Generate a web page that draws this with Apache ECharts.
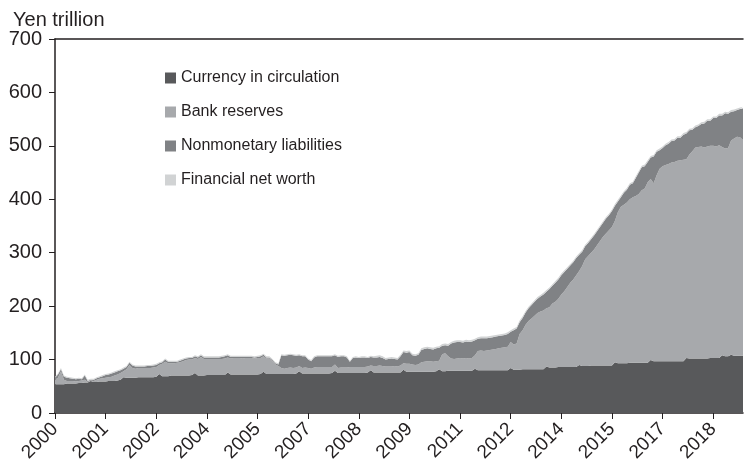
<!DOCTYPE html>
<html>
<head>
<meta charset="utf-8">
<script src="https://cdn.jsdelivr.net/npm/echarts@6/dist/echarts.min.js"></script>
<style>
  html, body { margin: 0; padding: 0; background: #fff; }
  #chart { width: 744px; height: 471px; }
</style>
</head>
<body>
<div id="chart"></div>
<script>
  // monthly, Jan 2000 .. Apr 2019
  var months = [];
  for (var i = 0; i < 232; i++) {
    months.push((2000 + Math.floor(i / 12)) + '-' + String(i % 12 + 1).padStart(2, '0'));
  }

  var legendNames = ['Currency in circulation', 'Bank reserves', 'Nonmonetary liabilities', 'Financial net worth'];

  var currency = [
    54,54,54,54,55,55,55,55,56,56,57,57,
    60,58,58,59,59,59,60,60,60,61,62,67,
    66,66,66,66,67,67,67,67,67,67,68,73,
    69,69,69,70,70,70,70,70,70,70,71,75,
    70,70,70,71,71,71,71,71,71,71,76,72,
    72,72,72,72,72,72,72,72,72,73,77,73,
    73,73,73,73,73,73,73,73,73,74,78,74,
    74,74,74,74,74,74,74,74,74,75,79,75,
    75,75,75,75,75,75,75,75,75,76,80,76,
    76,76,76,76,76,76,76,76,76,81,77,77,
    77,77,77,77,77,77,77,77,78,82,78,78,
    79,79,79,79,79,79,79,79,79,83,80,80,
    80,80,80,80,80,80,80,80,80,84,81,81,
    81,82,82,82,82,82,82,82,82,87,85,85,
    85,86,86,86,86,86,86,86,90,88,88,88,
    89,89,89,89,89,89,89,89,95,93,93,93,
    93,94,94,94,94,94,94,94,99,97,97,97,
    97,97,97,97,97,97,97,97,103,102,102,102,
    102,102,102,102,103,103,103,103,108,106,106,109,
    107,107,107,107
  ];

  var bankReserves = [
    8,12,24,8,5,5,5,4,4,5,5,1,
    1,2,4,5,6,7,7,8,10,11,13,11,
    16,24,18,17,17,17,17,17,17,18,18,17,
    23,27,24,23,23,24,25,27,29,30,29,28,
    31,35,31,30,30,30,30,30,30,31,28,30,
    31,31,31,30,31,31,31,30,31,30,29,29,
    29,24,18,15,11,10,11,12,11,11,10,10,
    11,10,9,11,12,12,12,12,12,11,12,9,
    10,10,10,11,11,11,11,11,11,11,9,12,
    12,13,12,11,11,11,12,11,13,12,15,15,
    14,13,14,18,19,20,20,19,19,16,32,34,
    27,23,22,23,24,23,24,23,24,25,36,37,
    36,37,38,39,40,41,42,43,44,49,47,49,
    67,73,83,90,95,100,105,108,110,109,113,120,
    123,128,136,142,150,158,164,172,176,187,200,206,
    211,217,225,233,241,247,253,259,265,283,293,297,
    301,306,310,312,316,323,326,338,339,333,348,360,
    365,367,369,372,373,375,376,377,372,382,388,395,
    396,397,395,397,397,397,396,398,390,389,390,401,
    407,410,409,404
  ];

  var nonmonetary = [
    4,6,4,6,6,5,4,4,4,2,8,2,
    1,2,3,3,4,5,5,6,6,6,5,5,
    4,4,5,4,3,3,3,4,4,4,4,3,
    3,4,3,3,3,2,3,3,3,3,3,3,
    3,3,3,3,3,3,3,3,4,4,4,3,
    2,2,2,3,2,2,2,2,2,3,3,2,
    2,2,2,3,24,24,24,24,24,22,20,22,
    21,16,14,19,20,20,20,20,20,20,17,21,
    21,21,19,10,17,18,17,18,18,16,16,16,
    16,16,15,13,14,15,13,13,17,21,21,22,
    17,17,18,23,24,24,23,23,24,24,16,15,
    20,28,31,31,30,30,31,31,31,28,23,23,
    24,23,23,23,23,23,23,23,24,19,27,28,
    22,23,23,24,25,26,27,28,30,31,34,33,
    36,36,36,36,34,32,32,32,30,27,24,24,
    25,26,26,26,26,28,28,30,28,20,18,22,
    24,27,26,34,40,43,42,38,40,50,44,35,
    34,37,38,40,40,43,42,47,48,45,40,38,
    39,42,45,48,47,52,53,56,59,66,64,54,
    51,50,53,59
  ];

  var netWorth = [
    2,2,2,2,2,2,2,2,2,2,2,2,
    2,2,2,2,2,2,2,2,2,2,2,2,
    2,2,2,2,2,2,2,2,2,2,2,2,
    2,2,2,2,2,2,2,2,2,2,2,2,
    2,2,2,2,2,2,2,2,2,2,2,2,
    2,2,2,2,2,2,2,2,2,2,2,2,
    2,2,2,2,2,2,2,2,2,2,2,2,
    2,2,2,2,2,2,2,2,2,2,2,2,
    2,2,2,2,2,2,2,2,2,2,2,2,
    3,3,3,3,3,3,3,3,3,3,3,3,
    3,3,3,3,3,3,3,3,3,3,3,3,
    3,3,3,3,3,3,3,3,3,3,3,3,
    3,3,3,3,3,3,3,3,3,3,3,3,
    3,3,3,3,3,3,3,3,3,3,3,3,
    3,3,3,3,3,3,3,3,3,3,3,3,
    3,3,3,3,3,3,3,3,3,3,3,3,
    3,3,3,3,3,3,3,3,3,3,3,3,
    3,3,3,3,3,3,3,3,3,3,3,3,
    3,3,3,3,3,3,3,3,3,3,3,3,
    3,3,3,3
  ];

  var colors = ['#58595b', '#a7a9ac', '#808285', '#d1d3d4'];
  var seriesData = [currency, bankReserves, nonmonetary, netWorth];

  var myChart = echarts.init(document.getElementById('chart'));
  var option = {
    animation: false,
    textStyle: { fontFamily: 'Liberation Sans, Arial, sans-serif', color: '#231f20' },
    title: {
      text: 'Yen trillion',
      left: 8,
      top: 5,
      textStyle: { fontSize: 20, fontWeight: 'normal', color: '#231f20' }
    },
    legend: {
      orient: 'vertical',
      left: 160,
      top: 65,
      itemWidth: 11,
      itemHeight: 11,
      itemGap: 18,
      icon: 'rect',
      data: legendNames,
      textStyle: { fontSize: 16, color: '#231f20', lineHeight: 16 }
    },
    grid: {
      left: 55,
      right: 1,
      top: 39,
      bottom: 58
    },
    xAxis: [{
      type: 'category',
      boundaryGap: false,
      data: months,
      axisLine: { lineStyle: { color: '#231f20', width: 1.5 } },
      axisTick: { interval: 16, length: 6, lineStyle: { color: '#231f20' } },
      axisLabel: {
        interval: 16,
        rotate: 45,
        fontSize: 19,
        margin: 13,
        color: '#231f20',
        formatter: function (v) { return v.slice(0, 4); }
      },
      splitLine: { show: false }
    }, {
      type: 'category',
      position: 'top',
      boundaryGap: false,
      data: months,
      axisLine: { lineStyle: { color: '#231f20', width: 1.5 } },
      axisTick: { show: false },
      axisLabel: { show: false }
    }],
    yAxis: {
      type: 'value',
      min: 0,
      max: 700,
      interval: 100,
      axisLine: { show: true, lineStyle: { color: '#231f20', width: 1.5 } },
      axisTick: { show: true, length: 6, lineStyle: { color: '#231f20' } },
      axisLabel: { fontSize: 20, margin: 13, color: '#231f20' },
      splitLine: { show: false }
    },
    series: []
  };

  for (var s = 0; s < seriesData.length; s++) {
    option.series.push({
      name: legendNames[s],
      type: 'line',
      stack: 'total',
      data: seriesData[s],
      symbol: 'none',
      lineStyle: { width: 0 },
      itemStyle: { color: colors[s] },
      areaStyle: { color: colors[s], opacity: 1 },
      z: 2
    });
  }

  myChart.setOption(option);
</script>
</body>
</html>
